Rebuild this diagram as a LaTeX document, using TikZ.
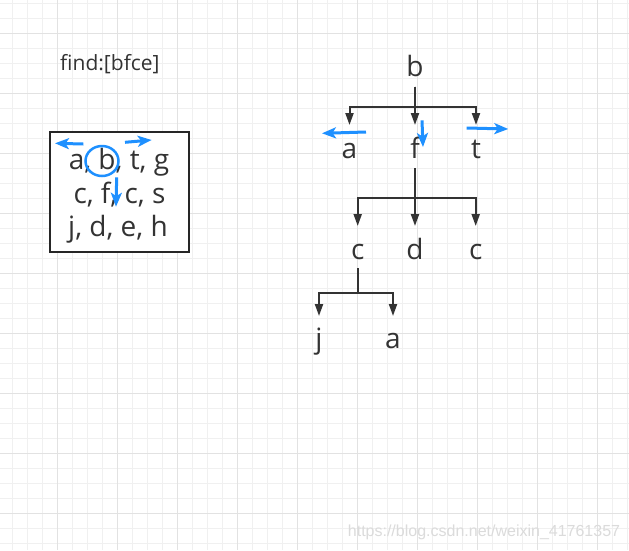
\documentclass[tikz,border=0pt]{standalone}
\usepackage{fontspec}
\setmainfont{Open Sans}
\newfontfamily\markfont{Liberation Sans}
\usetikzlibrary{arrows.meta, shapes.geometric, positioning}

\definecolor{inkgray}{HTML}{333333}
\definecolor{hintblue}{HTML}{1E90FF}
\definecolor{minorgrid}{HTML}{F0F0F0}
\definecolor{majorgrid}{HTML}{E2E2E2}

\begin{document}
\begin{tikzpicture}[
        x=1pt, y=-1pt,
        gridMinor/.style={draw=minorgrid, line width=1pt},
        gridMajor/.style={draw=majorgrid, line width=1pt},
        letterNode/.style={
            inner sep=0pt, anchor=base, text=inkgray,
            font=\fontsize{28}{28}\selectfont
        },
        stackNode/.style={
            rectangle, draw=black!85, line width=2pt, fill=white,
            minimum width=139.6pt, minimum height=120.3pt
        },
        ringNode/.style={
            ellipse, draw=hintblue, line width=2.5pt,
            minimum width=33pt, minimum height=30pt, inner sep=0pt
        },
        drop/.style={
            draw=inkgray, line width=2pt, -{Triangle[length=12pt, width=8pt]}
        },
        hint/.style={
            draw=hintblue, line width=3pt, -{Stealth[length=14pt, width=11pt, inset=3.5pt]}
        }
    ]
        \useasboundingbox (0,0) rectangle (629,550);
        \fill[white] (0,0) rectangle (629,550);

        % Background grid
        \foreach \gx in {12.3,27.3,...,629} \draw[gridMinor] (\gx,0) -- (\gx,550);
        \foreach \gy in {3.3,18.3,...,550} \draw[gridMinor] (0,\gy) -- (629,\gy);
        \foreach \gx in {57.3,117.3,...,629} \draw[gridMajor] (\gx,0) -- (\gx,550);
        \foreach \gy in {33.3,93.3,...,550} \draw[gridMajor] (0,\gy) -- (629,\gy);

        % Query and letter stack
        \node (query) [anchor=base west, inner sep=0pt, text=inkgray,
            font=\fontsize{21}{21}\selectfont] at (60,70) {find:[bfce]};
        \node (stack) [stackNode] at (119.5,191.7) {};
        \node (row1) [letterNode] at (119,169.3) {a, b, t, g};
        \node (row2) [letterNode] at (119.5,203.3) {c, f, c, s};
        \node (row3) [letterNode] at (118,236.7) {j, d, e, h};
        \node (ring) [ringNode] at (102,161) {};

        % Tree nodes
        \node (b0) [letterNode] at (415,76.7) {b};
        \node (a1) [letterNode] at (349.5,158) {a};
        \node (f1) [letterNode] at (415,158) {f};
        \node (t1) [letterNode] at (476,158) {t};
        \node (c2) [letterNode] at (357.7,259) {c};
        \node (d2) [letterNode] at (415,259) {d};
        \node (c3) [letterNode] at (475.7,259) {c};
        \node (j3) [letterNode] at (319,348) {j};
        \node (a3) [letterNode] at (393,348) {a};

        \coordinate (bar0) at (415,106.5);
        \coordinate (bar1) at (415,198);
        \coordinate (bar2) at (357.7,292.7);

        \foreach \kid in {a1,f1,t1}
            \draw[drop] ([yshift=-10pt]b0.base) -- (bar0) -| ([yshift=33pt]\kid.base);
        \foreach \kid in {c2,d2,c3}
            \draw[drop] ([yshift=-10pt]f1.base) -- (bar1) -| ([yshift=33pt]\kid.base);
        \foreach \kid in {j3,a3}
            \draw[drop] ([yshift=-9pt]c2.base) -- (bar2) -| ([yshift=32pt]\kid.base);

        % Search direction hints
        \coordinate (left-tail) at (83.3,144);
        \coordinate (left-tip) at (55,143.3);
        \coordinate (right-tail) at (125,142.3);
        \coordinate (right-tip) at (151.7,140);
        \coordinate (down-tail) at (116.7,177.3);
        \coordinate (down-tip) at (116,206.7);
        \coordinate (a-tail) at (366,132);
        \coordinate (a-tip) at (322,133.3);
        \coordinate (t-tail) at (466.7,128);
        \coordinate (t-tip) at (508.3,129);
        \coordinate (f-tail) at (422,120.3);
        \coordinate (f-tip) at (423,147);
        \foreach \h in {left,right,down,a,t,f}
            \draw[hint] (\h-tail) -- (\h-tip);

        \node (mark) [anchor=base, inner sep=0pt, text=black!14,
            font=\markfont\fontsize{16}{16}\selectfont] at (484,536)
            {https://blog.csdn.net/weixin\_41761357};
    \end{tikzpicture}
\end{document}
